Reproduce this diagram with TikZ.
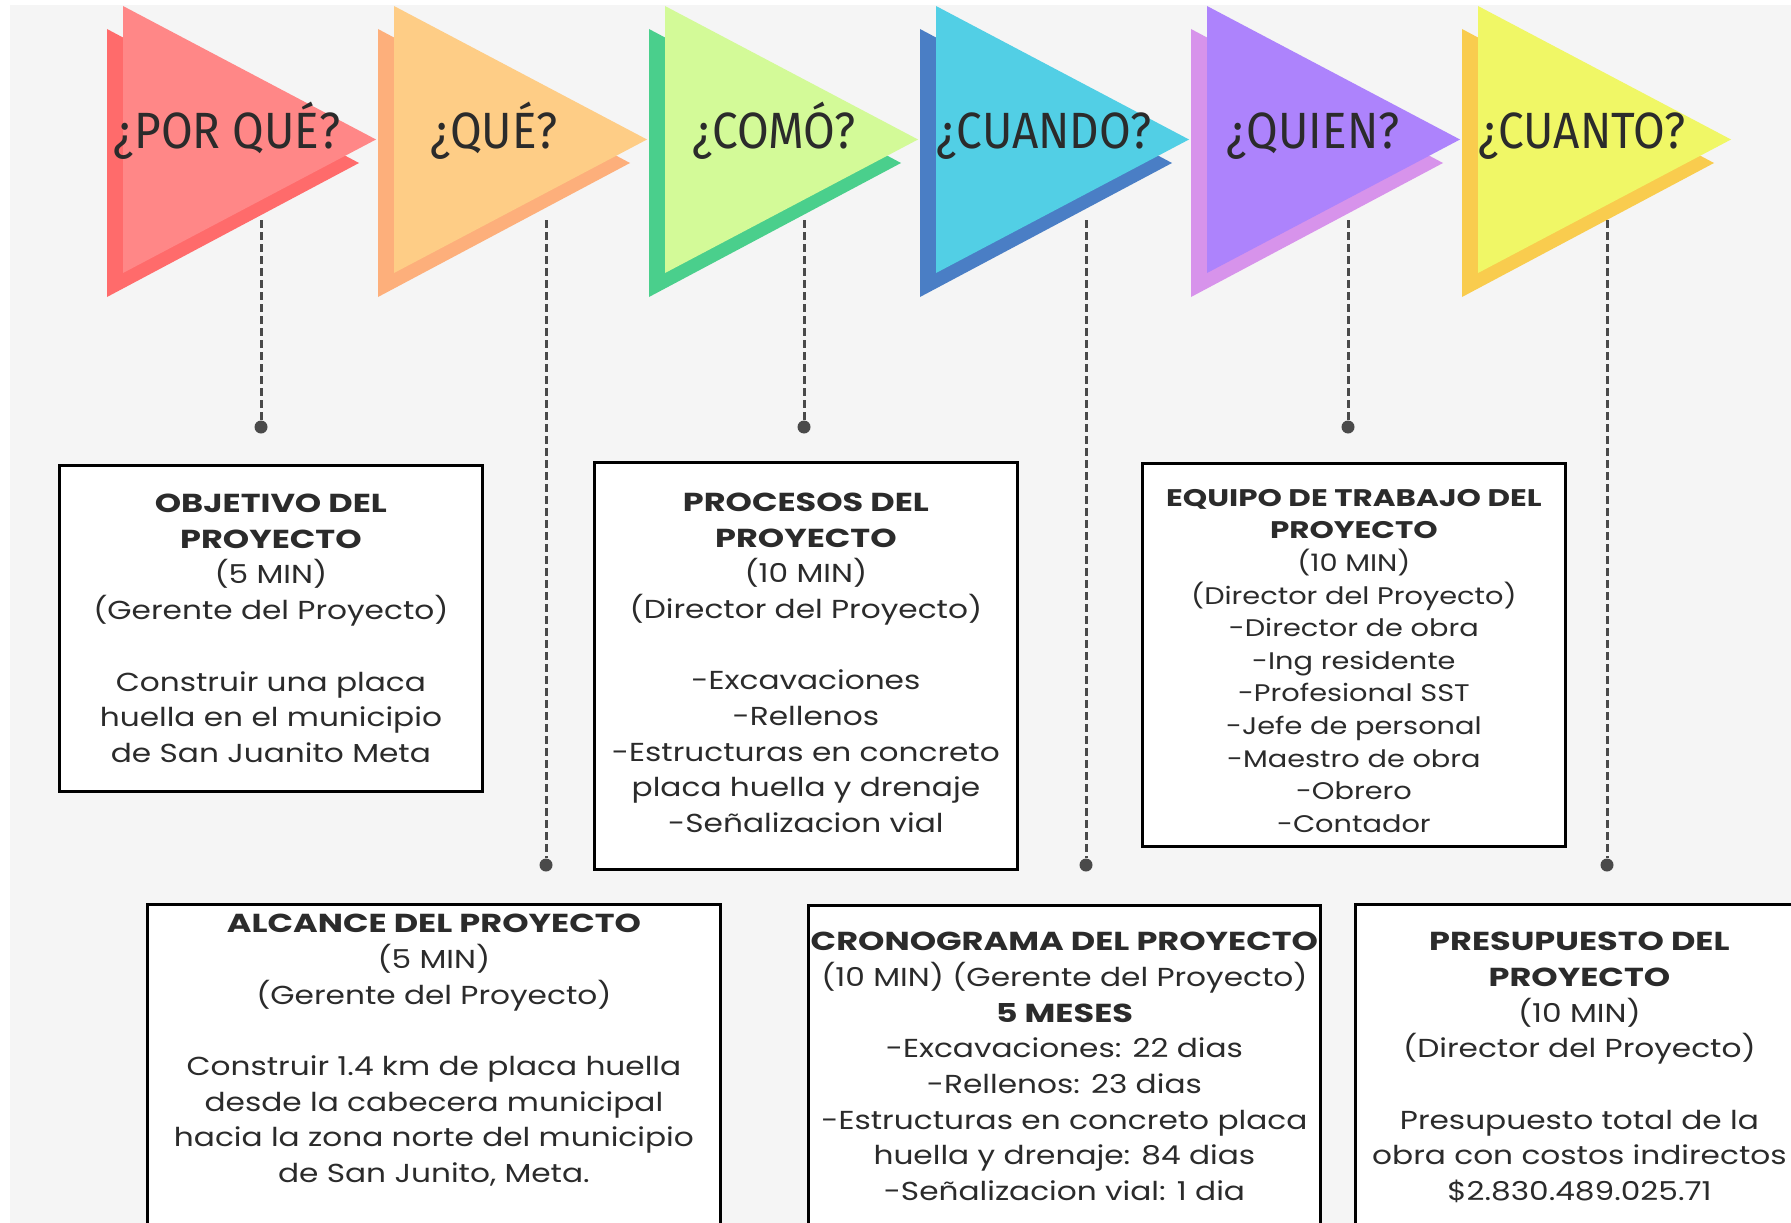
\documentclass[tikz,border=0pt]{standalone}
\usepackage{fontspec}
\setmainfont[FakeStretch=1.2, BoldFeatures={FakeStretch=1.29}]{Poppins}
\newfontfamily\handfont[FakeStretch=0.9]{Fira Sans}
\usetikzlibrary{positioning}
\definecolor{fondo}{HTML}{F5F5F5}
\definecolor{tinta}{HTML}{2B2B2B}
\definecolor{guia}{HTML}{4A4A4A}
\definecolor{rojoA}{HTML}{FF8787}
\definecolor{rojoB}{HTML}{FF6B6B}
\definecolor{naranjaA}{HTML}{FECD86}
\definecolor{naranjaB}{HTML}{FDAF7B}
\definecolor{verdeA}{HTML}{D3FA98}
\definecolor{verdeB}{HTML}{4ACF8C}
\definecolor{azulA}{HTML}{52CFE5}
\definecolor{azulB}{HTML}{4A7EC5}
\definecolor{moradoA}{HTML}{AD83FC}
\definecolor{moradoB}{HTML}{D793EB}
\definecolor{amarilloA}{HTML}{F0F766}
\definecolor{amarilloB}{HTML}{F9CC4E}
\tikzset{
    caja/.style={draw=black, line width=2.8pt, fill=white, inner sep=0pt, anchor=north west},
    texto/.style={align=center, text=tinta, inner sep=0pt, font=\fontsize{26}{35.7}\selectfont},
    pregunta/.style={anchor=base, text=tinta, inner sep=0pt, font=\handfont\fontsize{51}{51}\selectfont},
    guia/.style={draw=guia, line width=3pt, dash pattern=on 8pt off 4pt},
    punto/.style={circle, fill=guia, inner sep=0pt, minimum size=13pt}
}
\begin{document}
\begin{tikzpicture}[x=1pt,y=-1pt]
    \useasboundingbox (0,0) rectangle (1791,1223);
    \fill[white] (0,0) rectangle (1791,1223);
    \fill[fondo] (10,5) rectangle (1791,1223);
    %draw triangles
    \foreach \i/\fa/\fb/\tx/\q in {0/rojoA/rojoB/227/{¿POR QUÉ?},1/naranjaA/naranjaB/494/{¿QUÉ?},2/verdeA/verdeB/774/{¿COMÓ?},3/azulA/azulB/1044/{¿CUANDO?},4/moradoA/moradoB/1313/{¿QUIEN?},5/amarilloA/amarilloB/1582/{¿CUANTO?}}
        {%
            \fill[\fb] ({107+271*\i},29) -- ({107+271*\i},297) -- ({359+271*\i},163) -- cycle;
            \fill[\fa] ({123+271*\i},6) -- ({123+271*\i},273) -- ({376+271*\i},139.5) -- cycle;
            \node[pregunta] (q\i) at (\tx,148) {\q};
        }
    %draw dashed lines
    \foreach \n/\lx/\dy in {1/261/427,2/546/865,3/804/427,4/1086/865,5/1348/427,6/1607/865}
        {%
            \coordinate (s\n) at (\lx,220);
            \node[punto] (d\n) at (\lx,\dy) {};
            \draw[guia] (s\n) -- (d\n);
        }
    %draw boxes
    \node[caja, minimum width=423pt, minimum height=326pt] (objetivo) at (58,464) {};
    \node[caja, minimum width=423pt, minimum height=407pt] (procesos) at (593,461) {};
    \node[caja, minimum width=423pt, minimum height=383pt] (equipo) at (1141,462) {};
    \node[caja, minimum width=573pt, minimum height=340pt] (alcance) at (146,903) {};
    \node[caja, minimum width=512pt, minimum height=340pt] (cronograma) at (807,904) {};
    \node[caja, minimum width=448pt, minimum height=340pt] (presupuesto) at (1354,903) {};
    %texts
    \node[texto] (objetivoT) at (objetivo.center) {\textbf{OBJETIVO DEL}\\\textbf{PROYECTO}\\(5 MIN)\\(Gerente del Proyecto)\\[35.7pt]Construir una placa\\huella en el municipio\\de San Juanito Meta};
    \node[texto] (procesosT) at ([yshift=3pt]procesos.center) {\textbf{PROCESOS DEL}\\\textbf{PROYECTO}\\(10 MIN)\\(Director del Proyecto)\\[35.7pt]-Excavaciones\\-Rellenos\\-Estructuras en concreto\\placa huella y drenaje\\-Señalizacion vial};
    \node[texto, font=\fontsize{24}{32.6}\selectfont] (equipoT) at ([yshift=-6pt]equipo.center) {\textbf{EQUIPO DE TRABAJO DEL}\\\textbf{PROYECTO}\\(10 MIN)\\(Director del Proyecto)\\-Director de obra\\-Ing residente\\-Profesional SST\\-Jefe de personal\\-Maestro de obra\\-Obrero\\-Contador};
    \node[texto, anchor=north] (alcanceT) at ([yshift=-11pt]alcance.north) {\textbf{ALCANCE DEL PROYECTO}\\(5 MIN)\\(Gerente del Proyecto)\\[35.7pt]Construir 1.4 km de placa huella\\desde la cabecera municipal\\hacia la zona norte del municipio\\de San Junito, Meta.};
    \node[texto, anchor=north] (cronogramaT) at ([yshift=-28pt]cronograma.north) {\textbf{CRONOGRAMA DEL PROYECTO}\\(10 MIN) (Gerente del Proyecto)\\\textbf{5 MESES}\\-Excavaciones: 22 dias\\-Rellenos: 23 dias\\-Estructuras en concreto placa\\huella y drenaje: 84 dias\\-Señalizacion vial: 1 dia};
    \node[texto, anchor=north] (presupuestoT) at ([yshift=-29pt]presupuesto.north) {\textbf{PRESUPUESTO DEL}\\\textbf{PROYECTO}\\(10 MIN)\\(Director del Proyecto)\\[35.7pt]Presupuesto total de la\\obra con costos indirectos\\\$2.830.489.025.71};
\end{tikzpicture}
\end{document}
